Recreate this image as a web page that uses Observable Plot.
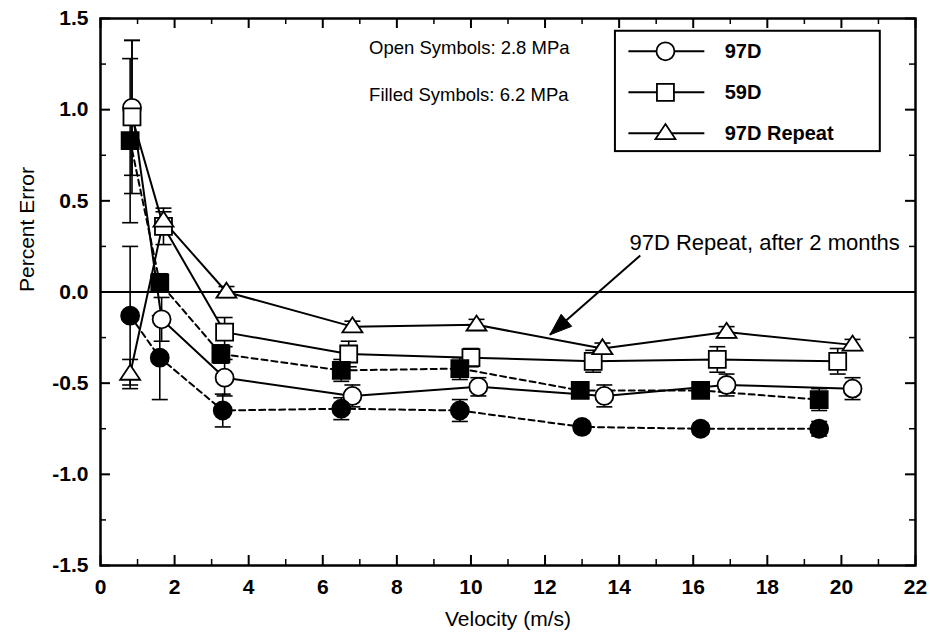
<!DOCTYPE html>
<html>
<head>
<meta charset="utf-8">
<script src="https://cdn.jsdelivr.net/npm/d3@7"></script>
<script src="https://cdn.jsdelivr.net/npm/@observablehq/plot@0.6"></script>
<style>
  body { margin: 0; background: #fff; }
  #chart { width: 930px; height: 643px; }
</style>
</head>
<body>
<div id="chart"></div>
<script>
// Flow meter calibration: percent error versus velocity.
// Open symbols: 2.8 MPa, filled symbols: 6.2 MPa.

// 97D at 2.8 MPa (open circles)
const vel97Low = [0.85, 1.65, 3.35, 6.8, 10.2, 13.6, 16.9, 20.3];
const err97Low = [1.01, -0.15, -0.47, -0.57, -0.52, -0.57, -0.51, -0.53];
const unc97Low = [0.37, 0.12, 0.10, 0.06, 0.05, 0.06, 0.06, 0.06];

// 97D at 6.2 MPa (filled circles)
const vel97High = [0.8, 1.6, 3.3, 6.5, 9.7, 13.0, 16.2, 19.4];
const err97High = [-0.13, -0.36, -0.65, -0.64, -0.65, -0.74, -0.75, -0.75];
const unc97High = [0.38, 0.23, 0.09, 0.06, 0.06, 0.03, 0.03, 0.04];

// 59D at 2.8 MPa (open squares)
const vel59Low = [0.85, 1.7, 3.35, 6.7, 10.0, 13.3, 16.65, 19.9];
const err59Low = [0.96, 0.36, -0.22, -0.34, -0.36, -0.38, -0.37, -0.38];
const unc59Low = [0.42, 0.10, 0.08, 0.07, 0.05, 0.06, 0.07, 0.07];

// 59D at 6.2 MPa (filled squares)
const vel59High = [0.8, 1.6, 3.25, 6.5, 9.7, 12.95, 16.2, 19.4];
const err59High = [0.83, 0.05, -0.34, -0.43, -0.42, -0.54, -0.54, -0.59];
const unc59High = [0.45, 0.05, 0.05, 0.06, 0.06, 0.04, 0.04, 0.06];

// 97D repeat, after 2 months, at 2.8 MPa (open triangles)
const velRepeat = [0.8, 1.7, 3.4, 6.8, 10.15, 13.55, 16.9, 20.3];
const errRepeat = [-0.45, 0.39, 0.0, -0.19, -0.18, -0.31, -0.22, -0.29];
const uncRepeat = [0.08, 0.05, 0.03, 0.03, 0.03, 0.03, 0.03, 0.03];

const legendNames = ["97D", "59D", "97D Repeat"];
const xTicks = [0, 2, 4, 6, 8, 10, 12, 14, 16, 18, 20, 22];
const xMinorTicks = [1, 3, 5, 7, 9, 11, 13, 15, 17, 19, 21];
const yTicks = [-1.5, -1.0, -0.5, 0.0, 0.5, 1.0, 1.5];
const yMinorTicks = [-1.25, -0.75, -0.25, 0.25, 0.75, 1.25];

const noteLines = ["Open Symbols: 2.8 MPa", "Filled Symbols: 6.2 MPa"];
const arrowNote = "97D Repeat, after 2 months";

function rowsOf(series, shape, filled, vel, err, unc) {
  return vel.map((v, i) => ({series, shape, filled, v, err: err[i], unc: unc[i]}));
}
const rows = [
  ...rowsOf("97D", "circle", false, vel97Low, err97Low, unc97Low),
  ...rowsOf("97D", "circle", true, vel97High, err97High, unc97High),
  ...rowsOf("59D", "square", false, vel59Low, err59Low, unc59Low),
  ...rowsOf("59D", "square", true, vel59High, err59High, unc59High),
  ...rowsOf("97D Repeat", "triangle", false, velRepeat, errRepeat, uncRepeat)
];
const key = d => d.series + (d.filled ? " high" : " low");

// Layout
const W = 930, H = 643;
const mLeft = 100, mRight = 15, mTop = 18, mBottom = 78;
const innerW = W - mLeft - mRight, innerH = H - mTop - mBottom;
const majorLen = 10, minorLen = 6;

// Marker shapes
const circleSym = r => ({draw(c) { c.moveTo(r, 0); c.arc(0, 0, r, 0, 2 * Math.PI); c.closePath(); }});
const squareSym = s => ({draw(c) { c.moveTo(-s, -s); c.lineTo(s, -s); c.lineTo(s, s); c.lineTo(-s, s); c.closePath(); }});
const triSym = (w, h) => ({draw(c) { c.moveTo(0, -h * 0.62); c.lineTo(w, h * 0.38); c.lineTo(-w, h * 0.38); c.closePath(); }});
const capSym = w => ({draw(c) { c.moveTo(-w, 0); c.lineTo(w, 0); }});
const shapes = {circle: circleSym(9), square: squareSym(8.5), triangle: triSym(10, 15)};

// Arrow annotation pointing at the repeat curve
const arrowFrom = {x: 14.57, y: 0.2};
const arrowTo = {x: 12.13, y: -0.235};
const kx = innerW / 22, ky = innerH / 3;
const adx = (arrowTo.x - arrowFrom.x) * kx, ady = -(arrowTo.y - arrowFrom.y) * ky;
const alen = Math.hypot(adx, ady), ux = adx / alen, uy = ady / alen;
const headSym = {draw(c) {
  const L = 22, w = 8;
  c.moveTo(0, 0);
  c.lineTo(-ux * L - uy * w, -uy * L + ux * w);
  c.lineTo(-ux * L + uy * w, -uy * L - ux * w);
  c.closePath();
}};

const font = "'Liberation Sans', Arial, Helvetica, sans-serif";

// Legend geometry (in data units)
const legendBox = {x1: 13.9, x2: 21.05, y1: 0.77, y2: 1.43};
const legendRows = legendNames.map((name, i) => ({
  name, shape: ["circle", "square", "triangle"][i], y: [1.32, 1.095, 0.87][i]
}));

const marks = [
  // Minor and major ticks pointing inward on all four sides
  Plot.tickX(xTicks, {x: d => d, insetTop: innerH - majorLen, strokeWidth: 2}),
  Plot.tickX(xMinorTicks, {x: d => d, insetTop: innerH - minorLen, strokeWidth: 1.5}),
  Plot.tickX(xTicks, {x: d => d, insetBottom: innerH - majorLen, strokeWidth: 2}),
  Plot.tickX(xMinorTicks, {x: d => d, insetBottom: innerH - minorLen, strokeWidth: 1.5}),
  Plot.tickY(yTicks, {y: d => d, insetRight: innerW - majorLen, strokeWidth: 2}),
  Plot.tickY(yMinorTicks, {y: d => d, insetRight: innerW - minorLen, strokeWidth: 1.5}),
  Plot.tickY(yTicks, {y: d => d, insetLeft: innerW - majorLen, strokeWidth: 2}),
  Plot.tickY(yMinorTicks, {y: d => d, insetLeft: innerW - minorLen, strokeWidth: 1.5}),
  Plot.axisX(xTicks, {tickSize: 0, tickPadding: 14, fontSize: 21, fontWeight: "bold", label: null, tickFormat: d => String(d)}),
  Plot.axisY(yTicks, {tickSize: 0, tickPadding: 12, fontSize: 21, fontWeight: "bold", label: null, tickFormat: d => d.toFixed(1)}),
  Plot.text(["Velocity (m/s)"], {frameAnchor: "bottom", dy: 60, fontSize: 21}),
  Plot.text(["Percent Error"], {frameAnchor: "left", dx: -73, rotate: -90, fontSize: 21}),

  Plot.ruleY([0], {strokeWidth: 2.2}),

  // Connecting lines: solid for 2.8 MPa, dashed for 6.2 MPa
  Plot.line(rows.filter(d => !d.filled), {x: "v", y: "err", z: key, stroke: "black", strokeWidth: 2}),
  Plot.line(rows.filter(d => d.filled), {x: "v", y: "err", z: key, stroke: "black", strokeWidth: 2, strokeDasharray: "6,4"}),

  // Uncertainty bars with caps
  Plot.ruleX(rows, {x: "v", y1: d => d.err - d.unc, y2: d => d.err + d.unc, strokeWidth: 1.6}),
  Plot.dot(rows, {x: "v", y: d => d.err + d.unc, symbol: capSym(8), stroke: "black", strokeWidth: 1.6, fill: "none"}),
  Plot.dot(rows, {x: "v", y: d => d.err - d.unc, symbol: capSym(8), stroke: "black", strokeWidth: 1.6, fill: "none"}),

  // Annotation arrow
  Plot.link([0], {x1: () => arrowFrom.x, y1: () => arrowFrom.y, x2: () => arrowTo.x, y2: () => arrowTo.y, strokeWidth: 2}),
  Plot.dot([0], {x: () => arrowTo.x, y: () => arrowTo.y, symbol: headSym, fill: "black", stroke: "black", strokeWidth: 1}),
  Plot.text([arrowNote], {x: 14.28, y: 0.27, textAnchor: "start", fontSize: 22}),

  // Pressure notes
  Plot.text(noteLines, {x: 7.25, y: (d, i) => [1.34, 1.08][i], textAnchor: "start", fontSize: 18.5}),

  // Legend box
  Plot.rect([legendBox], {x1: "x1", x2: "x2", y1: "y1", y2: "y2", fill: "white", stroke: "black", strokeWidth: 2}),
  Plot.link(legendRows, {x1: () => 14.25, x2: () => 16.3, y1: "y", y2: "y", strokeWidth: 2}),
  Plot.text(legendRows, {x: () => 16.85, y: "y", text: "name", textAnchor: "start", fontSize: 20, fontWeight: "bold"})
];

// Data markers, open and filled, per shape
for (const shape of ["circle", "square", "triangle"]) {
  for (const filled of [false, true]) {
    const sub = rows.filter(d => d.shape === shape && d.filled === filled);
    if (sub.length) marks.push(Plot.dot(sub, {x: "v", y: "err", symbol: shapes[shape], fill: filled ? "black" : "white", stroke: "black", strokeWidth: 1.8}));
  }
  marks.push(Plot.dot(legendRows.filter(d => d.shape === shape), {x: () => 15.25, y: "y", symbol: shapes[shape], fill: "white", stroke: "black", strokeWidth: 1.8}));
}

marks.push(Plot.frame({strokeWidth: 2.5}));

const plot = Plot.plot({
  width: W,
  height: H,
  marginLeft: mLeft,
  marginRight: mRight,
  marginTop: mTop,
  marginBottom: mBottom,
  style: {fontFamily: font, fontSize: "16px", color: "black", background: "white"},
  x: {domain: [0, 22]},
  y: {domain: [-1.5, 1.5]},
  marks
});
document.getElementById("chart").append(plot);
</script>
</body>
</html>
